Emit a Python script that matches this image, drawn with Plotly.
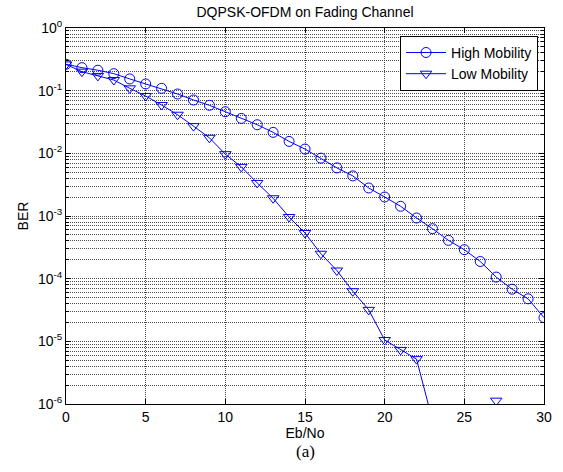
import plotly.graph_objects as go

ebno = list(range(0, 31))
high_mob = [0.264, 0.233, 0.212, 0.187, 0.154, 0.128, 0.109, 0.0885, 0.071, 0.0584,
            0.0461, 0.0361, 0.0286, 0.0216, 0.0155, 0.0117, 0.00838, 0.00586, 0.00437, 0.0028,
            0.00201, 0.00143, 0.00093, 0.000628, 0.000409, 0.00029, 0.000188, 0.000106, 6.79e-5, 4.77e-5,
            2.39e-5]
low_mob = [0.262, 0.201, 0.172, 0.148, 0.109, 0.0822, 0.059, 0.0413, 0.0272, 0.0177,
           0.0097, 0.00608, 0.00337, 0.00192, 0.000964, 0.000535, 0.00025, 0.000135, 6.3e-5, 3.18e-5,
           1.05e-5, 7.3e-6, 5.2e-6, 5.5e-7, None, None, None, 1.13e-6, None, None,
           None]

ytick_vals = [1e-6, 1e-5, 1e-4, 1e-3, 1e-2, 1e-1, 1]
ytick_text = ["10<sup>-6</sup>", "10<sup>-5</sup>", "10<sup>-4</sup>", "10<sup>-3</sup>",
              "10<sup>-2</sup>", "10<sup>-1</sup>", "10<sup>0</sup>"]
xtick_vals = [0, 5, 10, 15, 20, 25, 30]

BLUE = "#0000ff"
GRID = "#4a4a4a"
DOT = "1px,1px"
fig = go.Figure()
fig.add_trace(go.Scatter(x=ebno, y=high_mob, mode="lines+markers", name="High Mobility",
                         line=dict(color=BLUE, width=1),
                         marker=dict(symbol="circle-open", size=10, color=BLUE, line=dict(width=1))))
fig.add_trace(go.Scatter(x=ebno, y=low_mob, mode="lines+markers", name="Low Mobility",
                         line=dict(color=BLUE, width=1), connectgaps=False,
                         marker=dict(symbol="triangle-down-open", size=10, color=BLUE, line=dict(width=1))))

SANS = "Liberation Sans, Arial, sans-serif"
font = dict(family=SANS, size=14, color="black")
fig.update_layout(
    width=563, height=472,
    margin=dict(l=66, r=19, t=28, b=68),
    paper_bgcolor="white", plot_bgcolor="white",
    font=font,
    title=dict(text="DQPSK-OFDM on Fading Channel", x=305 / 563, xanchor="center",
               y=1 - 12.5 / 472, yanchor="middle",
               font=dict(size=14, family=SANS)),
    showlegend=True,
    legend=dict(x=0.9875, y=0.979, xanchor="right", yanchor="top", bgcolor="white",
                bordercolor="black", borderwidth=1, font=dict(size=14),
                itemwidth=40, tracegroupgap=0),
    xaxis=dict(range=[0, 30], tickvals=xtick_vals, showline=True, linecolor="black", linewidth=1,
               mirror="ticks", ticks="inside", ticklen=5, tickcolor="black", automargin=False,
               showgrid=True, gridcolor=GRID, griddash=DOT, gridwidth=1, zeroline=False,
               title=dict(text="Eb/No", standoff=3, font=dict(size=14)),
               tickfont=dict(size=14)),
    yaxis=dict(type="log", range=[-6, 0], tickvals=ytick_vals, ticktext=ytick_text,
               showline=True, linecolor="black", linewidth=1, mirror="ticks", automargin=False,
               ticks="inside", ticklen=5, tickcolor="black",
               showgrid=True, gridcolor=GRID, griddash=DOT, gridwidth=1, zeroline=False,
               minor=dict(dtick="D1", showgrid=True, gridcolor=GRID, griddash=DOT,
                          ticks="inside", ticklen=3, tickcolor="black"),
               title=dict(text="BER", standoff=6, font=dict(size=14)),
               tickfont=dict(size=14)),
)
fig.add_annotation(text="(a)", xref="paper", yref="paper", x=0.5, y=-0.1250, yanchor="middle",
                   showarrow=False, font=dict(family="Liberation Serif, Times New Roman, serif", size=17))
fig.write_html("out.html", config={"displayModeBar": False},
               post_script="document.body.style.margin='0px';")
